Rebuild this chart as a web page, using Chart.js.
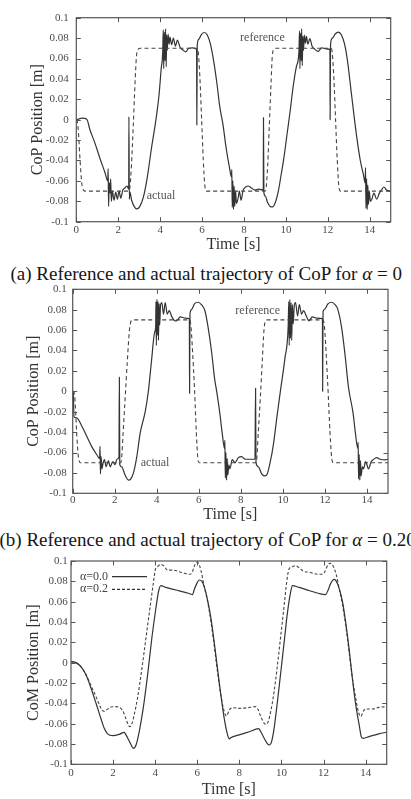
<!DOCTYPE html>
<html>
<head>
<meta charset="utf-8">
<script src="https://cdn.jsdelivr.net/npm/chart.js@4.4.1/dist/chart.umd.min.js"></script>
<style>
  html, body { margin: 0; padding: 0; background: #fff; width: 411px; height: 799px; overflow: hidden; }
  .box { position: absolute; left: 0; width: 411px; }
  .cap { position: absolute; white-space: nowrap; font-family: 'Liberation Serif', 'Times New Roman', serif;
         font-size: 19px; line-height: 20px; color: #161616; }
  .cap i { font-style: italic; }
</style>
</head>
<body>
<div class="box" style="top:0;height:262px"><canvas id="chartA" width="411" height="262"></canvas></div>
<div class="cap" style="top:264px;left:10.5px">(a) Reference and actual trajectory of CoP for <i>α</i> = 0</div>
<div class="box" style="top:276px;height:252px"><canvas id="chartB" width="411" height="252"></canvas></div>
<div class="cap" style="top:530px;left:-0.5px">(b) Reference and actual trajectory of CoP for <i>α</i> = 0.20</div>
<div class="box" style="top:548px;height:251px"><canvas id="chartC" width="411" height="251"></canvas></div>

<script>
// ticks shared by all three panels
const timeTicks = [0, 2, 4, 6, 8, 10, 12, 14];
const posTicks = [-0.1, -0.08, -0.06, -0.04, -0.02, 0, 0.02, 0.04, 0.06, 0.08, 0.1];

// (a) alpha = 0 : reference CoP
const refA_t = [0, 0.04, 0.1, 0.18, 0.26, 0.34, 0.45, 2.5, 2.56, 2.63, 2.72, 2.8, 2.87, 2.95, 3.05,
  5.76, 5.82, 5.9, 5.98, 6.06, 6.13, 6.22, 9.0, 9.06, 9.13, 9.21, 9.29, 9.35, 9.43, 9.52,
  12.15, 12.21, 12.29, 12.37, 12.45, 12.52, 12.6, 15];
const refA_v = [0, -0.001, -0.012, -0.04, -0.062, -0.069, -0.07, -0.07, -0.066, -0.045, -0.005, 0.035, 0.062, 0.069, 0.07,
  0.07, 0.066, 0.04, 0.0, -0.04, -0.064, -0.07, -0.07, -0.066, -0.045, -0.005, 0.035, 0.062, 0.069, 0.07,
  0.07, 0.066, 0.04, 0.0, -0.04, -0.064, -0.07, -0.07];

// (a) alpha = 0 : actual CoP
const actA_t = [0, 0.3, 0.5, 0.65, 0.89, 1.13, 1.37, 1.5, 1.52, 1.54, 1.57, 1.61, 1.64, 1.67, 1.72, 1.8, 1.88, 1.96,
  2.04, 2.12, 2.22, 2.32, 2.42, 2.5, 2.51, 2.53, 2.56, 2.64, 2.76, 2.88, 3.02, 3.2, 3.39, 3.6, 3.8, 3.95,
  4.05, 4.12, 4.15, 4.17, 4.2, 4.23, 4.26, 4.29, 4.31, 4.34, 4.38, 4.43, 4.47, 4.55, 4.63, 4.73, 4.82, 4.95,
  5.1, 5.23, 5.36, 5.55, 5.74, 5.75, 5.77, 5.85, 5.95, 6.1, 6.25, 6.4, 6.55, 6.7, 6.85, 7.0, 7.15, 7.3, 7.4,
  7.42, 7.44, 7.47, 7.5, 7.53, 7.56, 7.6, 7.64, 7.72, 7.78, 7.86, 7.96, 8.08, 8.2, 8.36, 8.52, 8.7, 8.92,
  8.93, 8.95, 9.02, 9.12, 9.25, 9.36, 9.5, 9.64, 9.78, 9.9, 10.05, 10.2, 10.35, 10.5, 10.62, 10.65, 10.67,
  10.7, 10.73, 10.75, 10.78, 10.81, 10.84, 10.88, 10.93, 10.98, 11.05, 11.14, 11.25, 11.38, 11.54, 11.7,
  11.92, 12.1, 12.11, 12.13, 12.22, 12.35, 12.5, 12.65, 12.8, 12.95, 13.1, 13.25, 13.4, 13.55, 13.7, 13.78,
  13.8, 13.82, 13.85, 13.88, 13.91, 13.94, 13.98, 14.03, 14.1, 14.2, 14.33, 14.46, 14.57, 14.68, 14.8, 15];
const actA_v = [0, 0.0015, 0.0005, -0.0098, -0.023, -0.038, -0.052, -0.06, -0.048, -0.085, -0.062, -0.072, -0.058, -0.08, -0.07, -0.079, -0.071, -0.078,
  -0.07, -0.077, -0.069, -0.067, -0.065, -0.068, 0.003, -0.078, -0.071, -0.079, -0.085, -0.0875, -0.0855, -0.076, -0.056, -0.026, 0.0, 0.025,
  0.05, 0.065, 0.088, 0.05, 0.086, 0.058, 0.089, 0.052, 0.083, 0.068, 0.084, 0.074, 0.081, 0.0735, 0.08, 0.072, 0.078, 0.071,
  0.068, 0.0665, 0.07, 0.0705, 0.069, -0.005, 0.073, 0.079, 0.083, 0.0855, 0.083, 0.074, 0.058, 0.037, 0.012, -0.005, -0.028, -0.046, -0.056,
  -0.049, -0.086, -0.06, -0.088, -0.065, -0.085, -0.07, -0.082, -0.077, -0.07, -0.079, -0.069, -0.066, -0.065, -0.067, -0.069, -0.068, -0.069,
  0.002, -0.072, -0.075, -0.081, -0.085, -0.0855, -0.081, -0.07, -0.053, -0.038, -0.015, 0.008, 0.033, 0.052, 0.066, 0.087, 0.05,
  0.085, 0.058, 0.089, 0.053, 0.082, 0.068, 0.083, 0.075, 0.0816, 0.074, 0.0795, 0.072, 0.069, 0.067, 0.0705,
  0.0695, 0.069, 0.0, 0.074, 0.08, 0.084, 0.0858, 0.083, 0.074, 0.056, 0.03, 0.004, -0.02, -0.04, -0.054, -0.062,
  -0.047, -0.087, -0.058, -0.088, -0.064, -0.083, -0.07, -0.08, -0.078, -0.072, -0.078, -0.072, -0.0686, -0.066, -0.069, -0.07];

// (b) alpha = 0.20 : reference CoP
const refB_t = [0, 0.08, 0.14, 0.2, 0.27, 0.35, 2.28, 2.33, 2.4, 2.5, 2.6, 2.7, 2.78, 2.88,
  5.55, 5.62, 5.7, 5.8, 5.88, 5.95, 6.02, 8.7, 8.76, 8.83, 8.93, 9.02, 9.1, 9.17, 9.25,
  11.9, 11.97, 12.05, 12.15, 12.24, 12.32, 12.4, 15];
const refB_v = [0, -0.002, -0.02, -0.045, -0.064, -0.07, -0.07, -0.065, -0.04, -0.005, 0.03, 0.06, 0.069, 0.07,
  0.07, 0.065, 0.04, 0.0, -0.04, -0.065, -0.07, -0.07, -0.065, -0.04, -0.005, 0.03, 0.06, 0.069, 0.07,
  0.07, 0.065, 0.04, 0.0, -0.04, -0.065, -0.07, -0.07];

// (b) alpha = 0.20 : actual CoP
const actB_t = [0, 0.03, 0.06, 0.19, 0.43, 0.67, 0.9, 1.14, 1.28, 1.3, 1.32, 1.35, 1.39, 1.43, 1.51, 1.59, 1.7, 1.78,
  1.91, 2.02, 2.1, 2.2, 2.22, 2.24, 2.33, 2.49, 2.65, 2.76, 2.89, 3.05, 3.21, 3.45, 3.6, 3.75, 3.9, 3.95,
  3.96, 3.98, 4.01, 4.03, 4.06, 4.08, 4.11, 4.14, 4.18, 4.24, 4.32, 4.4, 4.5, 4.59, 4.72, 4.88, 4.96, 5.12,
  5.36, 5.55, 5.56, 5.58, 5.65, 5.8, 5.97, 6.12, 6.29, 6.44, 6.6, 6.76, 6.85, 7.0, 7.13, 7.22, 7.24, 7.26,
  7.29, 7.32, 7.35, 7.38, 7.43, 7.48, 7.59, 7.72, 7.88, 8.04, 8.2, 8.44, 8.67, 8.7, 8.72, 8.83, 8.99, 9.12,
  9.23, 9.39, 9.55, 9.7, 9.88, 10.1, 10.25, 10.28, 10.3, 10.33, 10.36, 10.39, 10.42, 10.45, 10.49, 10.54,
  10.6, 10.7, 10.78, 10.89, 10.98, 11.13, 11.24, 11.4, 11.6, 11.88, 11.89, 11.91, 11.97, 12.15, 12.32, 12.48,
  12.6, 12.79, 12.95, 13.12, 13.34, 13.45, 13.56, 13.58, 13.6, 13.63, 13.66, 13.69, 13.72, 13.78, 13.83,
  13.94, 14.07, 14.2, 14.3, 14.46, 14.62, 14.86, 15];
const actB_v = [0, -0.002, -0.025, -0.026, -0.034, -0.044, -0.054, -0.062, -0.066, -0.054, -0.081, -0.064, -0.076, -0.072, -0.067, -0.074, -0.068, -0.074,
  -0.069, -0.072, -0.0666, -0.0647, 0.0137, -0.072, -0.074, -0.082, -0.087, -0.086, -0.08, -0.064, -0.041, -0.02, 0.0, 0.03, 0.058, 0.065,
  0.088, 0.045, 0.09, 0.055, 0.088, 0.05, 0.086, 0.065, 0.085, 0.087, 0.0757, 0.087, 0.0757, 0.079, 0.073, 0.069, 0.0695, 0.073,
  0.0718, 0.0712, -0.002, 0.076, 0.08, 0.086, 0.0873, 0.085, 0.079, 0.063, 0.04, 0.011, 0.0, -0.0216, -0.044, -0.056, -0.048, -0.085,
  -0.06, -0.087, -0.066, -0.082, -0.072, -0.076, -0.067, -0.07, -0.065, -0.064, -0.0666, -0.0666, -0.0666, 0.003, -0.07, -0.074, -0.081, -0.083,
  -0.082, -0.07, -0.052, -0.0275, 0.0, 0.033, 0.063, 0.088, 0.045, 0.09, 0.052, 0.087, 0.05, 0.085, 0.066, 0.084,
  0.087, 0.074, 0.085, 0.0757, 0.079, 0.073, 0.069, 0.073, 0.0718, 0.0712, 0.0, 0.078, 0.08, 0.086, 0.0873, 0.085,
  0.081, 0.063, 0.037, 0.004, -0.0216, -0.041, -0.056, -0.05, -0.086, -0.062, -0.087, -0.068, -0.083, -0.074, -0.076,
  -0.069, -0.076, -0.069, -0.067, -0.065, -0.0666, -0.0673, -0.0666];

// (c) CoM for alpha = 0.0
const com0_t = [0, 0.24, 0.47, 0.71, 0.95, 1.19, 1.42, 1.58, 1.74, 1.98, 2.29, 2.53, 2.61, 2.74, 2.9, 2.97, 3.09,
  3.24, 3.43, 3.64, 3.84, 4.03, 4.16, 4.27, 4.51, 4.98, 5.62, 5.78, 5.85, 5.98, 6.09, 6.22, 6.33, 6.49, 6.65,
  6.8, 6.96, 7.12, 7.28, 7.44, 7.52, 7.59, 7.99, 8.47, 8.91, 9.02, 9.18, 9.34, 9.42, 9.53, 9.65, 9.81, 9.97,
  10.13, 10.28, 10.44, 10.52, 10.84, 11.31, 11.79, 12.1, 12.22, 12.34, 12.5, 12.61, 12.74, 12.9, 13.05, 13.21,
  13.37, 13.53, 13.69, 13.81, 13.89, 14.16, 14.63, 15];
const com0_v = [0.001, 0.0, -0.004, -0.012, -0.025, -0.04, -0.055, -0.0646, -0.07, -0.0718, -0.0705, -0.0685, -0.071, -0.076, -0.0826, -0.0843, -0.081,
  -0.068, -0.045, -0.012, 0.024, 0.053, 0.07, 0.0757, 0.074, 0.0715, 0.068, 0.067, 0.0715, 0.078, 0.0813, 0.08, 0.0748, 0.0616, 0.0436,
  0.0207, -0.0056, -0.0318, -0.0548, -0.0711, -0.075, -0.0738, -0.0711, -0.068, -0.065, -0.068, -0.0744, -0.08, -0.081, -0.0777, -0.0646, -0.038, -0.009,
  0.0207, 0.0485, 0.0698, 0.0757, 0.074, 0.071, 0.068, 0.067, 0.0715, 0.078, 0.082, 0.08, 0.073, 0.06, 0.04, 0.014,
  -0.0154, -0.0416, -0.061, -0.0738, -0.0744, -0.0728, -0.07, -0.0685];

// (c) CoM for alpha = 0.2
const com2_t = [0, 0.24, 0.47, 0.71, 0.95, 1.19, 1.34, 1.47, 1.58, 1.74, 1.9, 2.14, 2.37, 2.48, 2.61, 2.74, 2.8, 2.9,
  3.0, 3.16, 3.37, 3.56, 3.77, 3.91, 4.0, 4.11, 4.27, 4.4, 4.59, 4.83, 5.22, 5.62, 5.74, 5.85, 5.97, 6.06, 6.17,
  6.33, 6.49, 6.65, 6.8, 6.96, 7.12, 7.28, 7.39, 7.52, 7.67, 7.99, 8.39, 8.75, 8.86, 9.02, 9.18, 9.26, 9.37, 9.49,
  9.65, 9.81, 9.97, 10.13, 10.25, 10.36, 10.52, 10.68, 10.84, 11.03, 11.31, 11.71, 11.95, 12.07, 12.22, 12.34,
  12.47, 12.61, 12.74, 12.9, 13.05, 13.21, 13.37, 13.53, 13.65, 13.77, 13.88, 14.0, 14.32, 14.63, 15];
const com2_v = [0.001, 0.0, -0.004, -0.0115, -0.0226, -0.0334, -0.041, -0.0466, -0.048, -0.0456, -0.0436, -0.0433, -0.045, -0.048, -0.0554, -0.062, -0.063, -0.0597,
  -0.0515, -0.035, -0.0056, 0.024, 0.0567, 0.078, 0.091, 0.0944, 0.0967, 0.0954, 0.091, 0.091, 0.089, 0.087, 0.088, 0.0944, 0.0987, 0.0977, 0.091,
  0.0748, 0.06, 0.0403, 0.0174, -0.0089, -0.0318, -0.048, -0.0525, -0.0466, -0.0443, -0.045, -0.0443, -0.0433, -0.045, -0.0531, -0.0597, -0.0607, -0.058, -0.048,
  -0.0285, -0.0023, 0.0272, 0.0567, 0.0797, 0.0921, 0.0944, 0.0954, 0.0934, 0.09, 0.089, 0.087, 0.087, 0.09, 0.0967, 0.0977,
  0.0944, 0.086, 0.073, 0.0567, 0.037, 0.011, -0.0154, -0.0351, -0.048, -0.053, -0.048, -0.0456, -0.0456, -0.044, -0.0433];

const serif = "'Liberation Serif', 'Times New Roman', serif";
const pts = (ts, vs) => ts.map((t, i) => ({ x: t, y: vs[i] }));

// box + inward tick marks on all four sides, gnuplot style
const frame = {
  id: 'frame',
  afterDatasetsDraw(chart) {
    const { ctx, chartArea: a, scales: { x, y } } = chart;
    const len = 4.5;
    ctx.save();
    ctx.strokeStyle = '#555';
    ctx.lineWidth = 1;
    ctx.beginPath();
    x.ticks.forEach(t => {
      const px = Math.round(x.getPixelForValue(t.value)) + 0.5;
      ctx.moveTo(px, a.bottom); ctx.lineTo(px, a.bottom - len);
      ctx.moveTo(px, a.top); ctx.lineTo(px, a.top + len);
    });
    y.ticks.forEach(t => {
      const py = Math.round(y.getPixelForValue(t.value)) + 0.5;
      ctx.moveTo(a.left, py); ctx.lineTo(a.left + len, py);
      ctx.moveTo(a.right, py); ctx.lineTo(a.right - len, py);
    });
    ctx.stroke();
    ctx.lineWidth = 1.2;
    ctx.strokeRect(a.left, a.top, a.right - a.left, a.bottom - a.top);
    ctx.restore();
  }
};

// small text labels inside the plot, plus the line-sample key of panel (c)
const notes = {
  id: 'notes',
  afterDraw(chart, args, opts) {
    const { ctx, chartArea: a, scales: { x, y } } = chart;
    ctx.save();
    ctx.font = '12px ' + serif;
    ctx.fillStyle = '#555';
    ctx.textBaseline = 'middle';
    ctx.textAlign = 'center';
    (opts.items || []).forEach(n => {
      ctx.fillText(n.text, x.getPixelForValue(n.t), y.getPixelForValue(n.v));
    });
    (opts.key || []).forEach((k, i) => {
      const ky = a.top + 15.7 + i * 12.6;
      ctx.textAlign = 'left';
      ctx.fillStyle = '#444';
      ctx.fillText(k.text, a.left + 9, ky);
      ctx.strokeStyle = '#333';
      ctx.lineWidth = 1.2;
      ctx.setLineDash(k.dash);
      ctx.beginPath();
      ctx.moveTo(a.left + 41, ky);
      ctx.lineTo(a.left + 76, ky);
      ctx.stroke();
      ctx.setLineDash([]);
    });
    ctx.restore();
  }
};

function makeChart(id, cfg) {
  return new Chart(document.getElementById(id), {
    type: 'line',
    data: { datasets: cfg.datasets },
    options: {
      responsive: false,
      animation: false,
      devicePixelRatio: 1,
      layout: { padding: cfg.pad },
      elements: { point: { radius: 0 }, line: { cubicInterpolationMode: 'monotone' } },
      plugins: {
        legend: { display: false },
        tooltip: { enabled: false },
        notes: { items: cfg.items || [], key: cfg.key || [] }
      },
      scales: {
        x: {
          type: 'linear', min: 0, max: 15,
          afterBuildTicks: s => { s.ticks = timeTicks.map(v => ({ value: v })); },
          afterFit: s => { s.height = cfg.xh; },
          grid: { display: false, drawTicks: false },
          border: { display: false },
          ticks: { font: { family: serif, size: 11 }, color: '#4a4a4a', padding: cfg.xpad, maxRotation: 0, autoSkip: false },
          title: { display: true, text: 'Time [s]', color: '#333', font: { family: serif, size: 16, lineHeight: 1.1 }, padding: { top: 0, bottom: cfg.xtp } }
        },
        y: {
          type: 'linear', min: -0.1, max: 0.1,
          afterBuildTicks: s => { s.ticks = posTicks.map(v => ({ value: v })); },
          afterFit: s => { s.width = cfg.yw; },
          grid: { display: false, drawTicks: false },
          border: { display: false },
          ticks: { font: { family: serif, size: 11 }, color: '#4a4a4a', padding: cfg.ypad, autoSkip: false, callback: v => String(+v.toFixed(2)) },
          title: { display: true, text: cfg.ytitle, color: '#333', font: { family: serif, size: 16, lineHeight: 1.1 }, padding: { top: cfg.ytp, bottom: 0 } }
        }
      }
    },
    plugins: [frame, notes]
  });
}

const solid = { borderColor: '#333', borderWidth: 1.2, fill: false };
const dashed = { borderColor: '#444', borderWidth: 1.1, borderDash: [4, 3], fill: false };

makeChart('chartA', {
  datasets: [
    Object.assign({ label: 'reference', data: pts(refA_t, refA_v) }, dashed),
    Object.assign({ label: 'actual', data: pts(actA_t, actA_v) }, solid)
  ],
  pad: { top: 17.7, right: 20.3, left: 0, bottom: 0 },
  xh: 40.3, xpad: 2, xtp: 8.2, yw: 76.3, ypad: 7.6, ytp: 28.7,
  ytitle: 'CoP Position [m]',
  items: [{ t: 8.88, v: 0.080, text: 'reference' }, { t: 4.04, v: -0.075, text: 'actual' }]
});

makeChart('chartB', {
  datasets: [
    Object.assign({ label: 'reference', data: pts(refB_t, refB_v) }, dashed),
    Object.assign({ label: 'actual', data: pts(actB_t, actB_v) }, solid)
  ],
  pad: { top: 13.3, right: 23, left: 0, bottom: 0 },
  xh: 34.7, xpad: 0.5, xtp: 4.2, yw: 72.7, ypad: 6, ytp: 25.2,
  ytitle: 'CoP Position [m]',
  items: [{ t: 8.8, v: 0.079, text: 'reference' }, { t: 3.92, v: -0.0706, text: 'actual' }]
});

makeChart('chartC', {
  datasets: [
    Object.assign({ label: 'α=0.0', data: pts(com0_t, com0_v) }, solid),
    Object.assign({ label: 'α=0.2', data: pts(com2_t, com2_v) }, dashed, { borderDash: [3, 2] })
  ],
  pad: { top: 13, right: 24.3, left: 0, bottom: 0 },
  xh: 34.7, xpad: 2.4, xtp: 0.2, yw: 71, ypad: 3.3, ytp: 25.2,
  ytitle: 'CoM Position [m]',
  key: [{ text: 'α=0.0', dash: [] }, { text: 'α=0.2', dash: [3, 2] }]
});
</script>
</body>
</html>
